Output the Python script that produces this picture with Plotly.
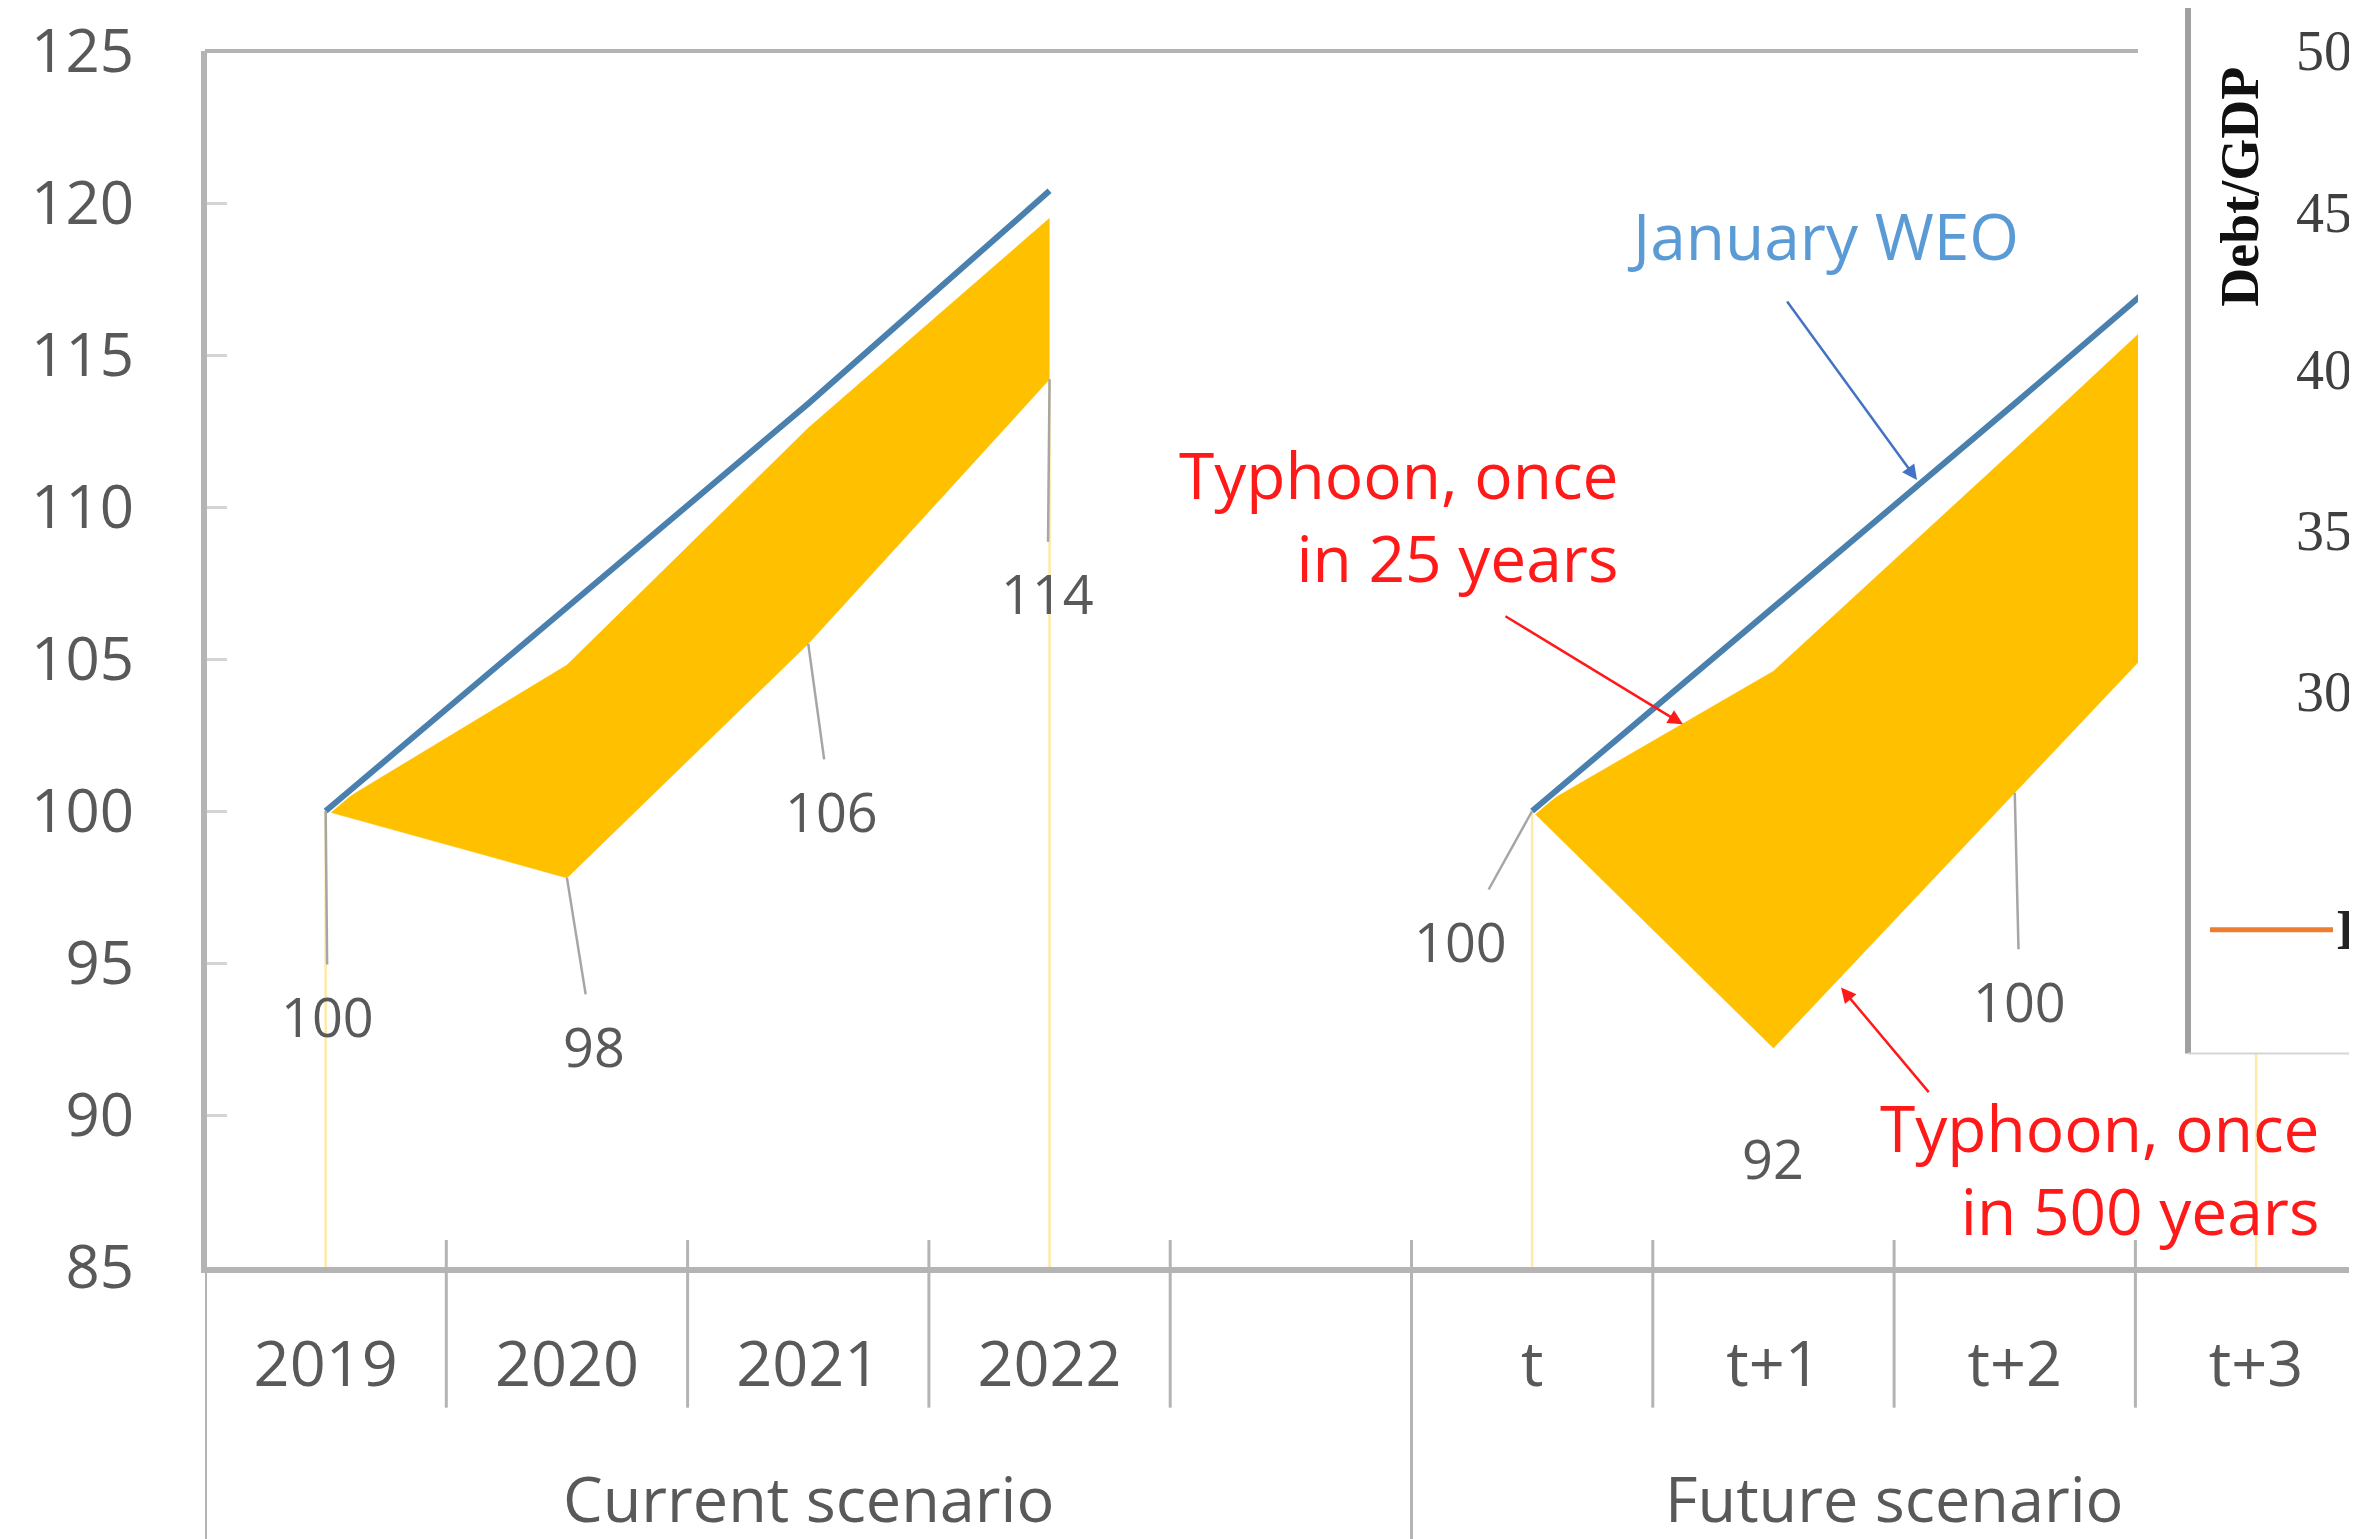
import plotly.graph_objects as go

# ---------------- data ----------------
categories = ["2019", "2020", "2021", "2022", " ", "t", "t+1", "t+2", "t+3"]
current_cats = ["2019", "2020", "2021", "2022"]
future_cats = ["t", "t+1", "t+2", "t+3"]
group_names = ["Current scenario", "Future scenario"]

weo_current = [100, 106.7, 113.4, 120.4]
weo_future = [100, 106.7, 113.4, 120.2]
typhoon25_current = [100, 104.8, 112.6, 119.5]
typhoon500_current = [100, 97.8, 105.5, 114.2]
typhoon25_future = [100, 104.6, 111.9, 119.3]
typhoon500_future = [100, 92.2, 100.6, 109.0]

labels_current = ["100", "98", "106", "114"]
labels_future = ["100", "92", "100"]

panel_tick_labels = ["50", "45", "40", "35", "30"]

# ---------------- geometry helpers (layout only, screen pixels) ----------------
OFF = 8                      # page body margin
SW, SH = 2357, 1539          # screen size
W, H = SW - OFF, SH - OFF    # figure size
PL, PT, PB = 205, 48, 1267   # plot left / top / bottom on screen
PW = W - (PL - OFF)
PH = PB - PT
CATW = 241.3
Y0, Y1 = 85, 125
X0 = -0.5
X1 = X0 + PW / CATW


def px_x(px):
    return (px - PL) / PW


def px_y(py):
    return (PB - py) / PH


def cat_idx(c):
    return categories.index(c)


FONT = "Open Sans"
YELLOW = "#FFC000"
PALE = "#FFE9A6"
BLUE = "#4A80AE"
GREY = "#B4B4B4"
TXT = "#595959"
RED = "#FF1A1A"

fig = go.Figure()

# drop lines (light yellow) at the ends of each scenario
for cat, v in [(current_cats[0], typhoon500_current[0]), (current_cats[-1], typhoon500_current[-1]),
               (future_cats[0], typhoon500_future[0]), (future_cats[-1], typhoon500_future[-1])]:
    fig.add_trace(go.Scatter(x=[cat, cat], y=[v, Y0], mode="lines",
                             line=dict(color=PALE, width=2.5), hoverinfo="skip", showlegend=False))

# yellow ranges
for cats, lo, hi in [(current_cats, typhoon500_current, typhoon25_current),
                     (future_cats, typhoon500_future, typhoon25_future)]:
    fig.add_trace(go.Scatter(x=cats, y=lo, mode="lines", line=dict(color=YELLOW, width=0.5),
                             showlegend=False, hoverinfo="skip"))
    fig.add_trace(go.Scatter(x=cats, y=hi, mode="lines", line=dict(color=YELLOW, width=0.5),
                             fill="tonexty", fillcolor=YELLOW, showlegend=False, hoverinfo="skip"))

# January WEO line
for cats, vals in [(current_cats, weo_current), (future_cats, weo_future)]:
    fig.add_trace(go.Scatter(x=cats, y=vals, mode="lines", line=dict(color="white", width=9),
                             showlegend=False, hoverinfo="skip"))
    fig.add_trace(go.Scatter(x=cats, y=vals, mode="lines", line=dict(color=BLUE, width=6),
                             showlegend=False, hoverinfo="skip"))

annotations = []

# data labels with leader lines: (category, value, label, ax, ay)
leader_specs = [
    (current_cats[0], typhoon500_current[0], labels_current[0], 2, 205),
    (current_cats[1], typhoon500_current[1], labels_current[1], 27, 168),
    (current_cats[2], typhoon500_current[2], labels_current[2], 23, 167),
    (current_cats[3], typhoon500_current[3], labels_current[3], -2, 214),
    (future_cats[0], typhoon500_future[0], labels_future[0], -72, 130),
    (future_cats[2], typhoon500_future[2], labels_future[2], 5, 208),
]
for cat, v, lab, ax, ay in leader_specs:
    annotations.append(dict(x=cat_idx(cat), y=v, xref="x", yref="y", text=lab, showarrow=True,
                            arrowhead=0, arrowwidth=2.5, arrowcolor="#A6A6A6",
                            ax=ax, ay=ay, borderpad=14,
                            font=dict(family=FONT, size=54, color=TXT)))
# label without leader
annotations.append(dict(x=cat_idx(future_cats[1]), y=typhoon500_future[1], xref="x", yref="y",
                        text=labels_future[1], showarrow=False, yshift=-110,
                        xanchor="center", yanchor="middle",
                        font=dict(family=FONT, size=54, color=TXT)))

# series annotations
annotations.append(dict(x=6.205, y=118.93, xref="x", yref="y", text="January WEO", showarrow=False,
                        xanchor="center", yanchor="middle",
                        font=dict(family=FONT, size=64, color="#5B9BD5")))
annotations.append(dict(x=6.595, y=110.89, xref="x", yref="y", text="", showarrow=True,
                        arrowhead=2, arrowsize=1.2, arrowwidth=2.5, arrowcolor="#4472C4",
                        ax=-131, ay=-180))
annotations.append(dict(x=5.368, y=109.71, xref="x", yref="y", text="Typhoon, once<br>in 25 years",
                        showarrow=False, xanchor="right", yanchor="middle", align="right",
                        font=dict(family=FONT, size=64, color=RED)))
annotations.append(dict(x=5.625, y=102.85, xref="x", yref="y", text="", showarrow=True,
                        arrowhead=2, arrowsize=1.2, arrowwidth=2.5, arrowcolor=RED,
                        ax=-179, ay=-109))
annotations.append(dict(x=8.273, y=88.22, xref="x", yref="y", text="Typhoon, once<br>in 500 years",
                        showarrow=False, xanchor="right", yanchor="middle", align="right",
                        font=dict(family=FONT, size=64, color=RED)))
annotations.append(dict(x=6.28, y=94.19, xref="x", yref="y", text="", showarrow=True,
                        arrowhead=2, arrowsize=1.2, arrowwidth=2.5, arrowcolor=RED,
                        ax=89, ay=106))

# group labels
for name, xc in zip(group_names, [2.0, 6.5]):
    annotations.append(dict(x=xc, y=px_y(1498), xref="x", yref="paper", text=name,
                            xanchor="center", yanchor="middle", showarrow=False,
                            font=dict(family=FONT, size=63, color=TXT)))

# overlapping right-hand panel (part of a neighbouring chart)
annotations.append(dict(x=px_x(2240), y=px_y(184), xref="paper", yref="paper", text="<b>Debt/GDP</b>",
                        textangle=-90, showarrow=False, xanchor="center", yanchor="middle",
                        font=dict(family="Liberation Serif", size=54, color="#111111")))
for lab, py in zip(panel_tick_labels, [48, 210, 368, 529, 691]):
    annotations.append(dict(x=px_x(2294), y=px_y(py), xref="paper", yref="paper", text=lab,
                            xanchor="left", yanchor="middle", showarrow=False,
                            font=dict(family="Liberation Serif", size=56, color="#404040")))
annotations.append(dict(x=px_x(2334), y=px_y(929), xref="paper", yref="paper", text="<b>I</b>",
                        xanchor="left", yanchor="middle", showarrow=False,
                        font=dict(family="Liberation Serif", size=56, color="#222222")))

shapes = []
# top border of plot
shapes.append(dict(type="line", xref="paper", yref="paper", x0=0, x1=1, y0=1, y1=1,
                   line=dict(color=GREY, width=4), layer="above"))
# left border extended to bottom
shapes.append(dict(type="line", xref="x", yref="paper", x0=-0.5, x1=-0.5, y0=1, y1=px_y(1545),
                   line=dict(color=GREY, width=4), layer="above"))
# category separators
for b in [0.5, 1.5, 2.5, 3.5, 5.5, 6.5, 7.5]:
    shapes.append(dict(type="line", xref="x", yref="paper", x0=b, x1=b, y0=px_y(1240), y1=px_y(1408),
                       line=dict(color=GREY, width=3), layer="above"))
# group separator
shapes.append(dict(type="line", xref="x", yref="paper", x0=4.5, x1=4.5, y0=px_y(1240), y1=px_y(1545),
                   line=dict(color=GREY, width=3), layer="above"))
# white cover for the overlapping panel
shapes.append(dict(type="rect", xref="paper", yref="paper", x0=px_x(2138), x1=px_x(2400),
                   y0=px_y(1052), y1=px_y(-20), fillcolor="white", line=dict(width=0), layer="above"))
shapes.append(dict(type="line", xref="paper", yref="paper", x0=px_x(2188), x1=px_x(2188),
                   y0=px_y(1053), y1=px_y(-20), line=dict(color="#A0A0A0", width=6), layer="above"))
shapes.append(dict(type="line", xref="paper", yref="paper", x0=px_x(2188), x1=px_x(2400),
                   y0=px_y(1053), y1=px_y(1053), line=dict(color="#D6D6D6", width=2), layer="above"))
shapes.append(dict(type="line", xref="paper", yref="paper", x0=px_x(2210), x1=px_x(2333),
                   y0=px_y(929), y1=px_y(929), line=dict(color="#ED7D31", width=5), layer="above"))

fig.update_layout(
    width=W, height=H, autosize=False,
    margin=dict(l=PL - OFF, r=0, t=PT - OFF, b=H - (PB - OFF), pad=0),
    paper_bgcolor="white", plot_bgcolor="white",
    showlegend=False,
    annotations=annotations,
    shapes=shapes,
    xaxis=dict(type="category", categoryorder="array", categoryarray=categories,
               range=[X0, X1], showgrid=False, zeroline=False,
               showline=True, linecolor=GREY, linewidth=6, ticks="",
               tickfont=dict(family=FONT, size=63, color=TXT), ticklabelstandoff=37,
               ticklabeloverflow="allow"),
    yaxis=dict(range=[Y0, Y1], dtick=5, tick0=85, showgrid=False, zeroline=False,
               showline=True, linecolor=GREY, linewidth=4,
               ticks="inside", ticklen=22, tickwidth=3, tickcolor="#D4D4D4",
               tickfont=dict(family=FONT, size=60, color=TXT), ticklabelstandoff=55,
               ticklabeloverflow="allow"),
)

fig.write_html("out.html")
